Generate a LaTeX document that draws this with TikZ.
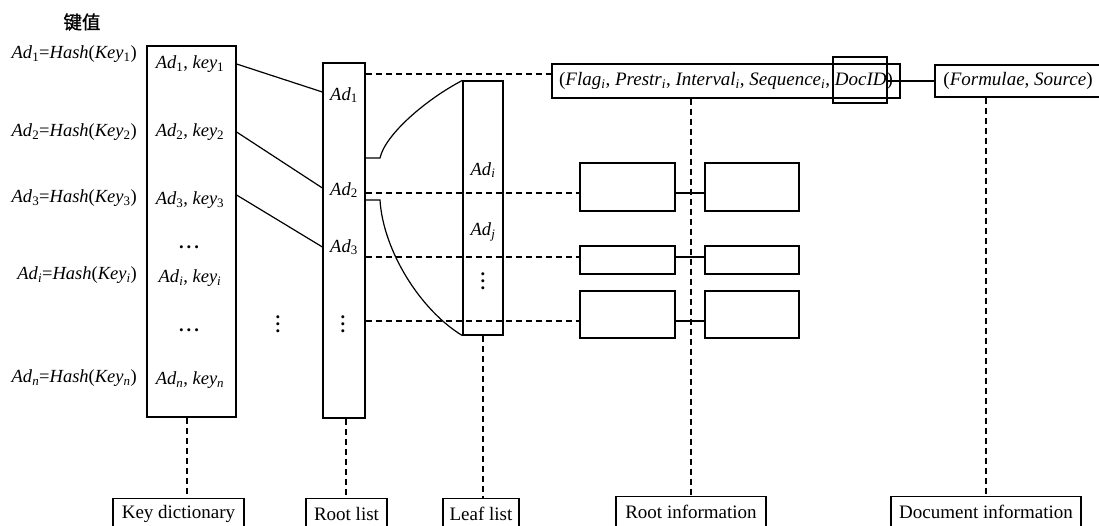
\documentclass[tikz,border=0pt]{standalone}
\usepackage{fontspec}
\setmainfont{Liberation Serif}
\newfontfamily\cjk[FakeBold=1.2]{Noto Sans CJK SC}
\newcommand{\Ad}[1]{\textit{Ad}\textsubscript{#1}}
\newcommand{\ky}[1]{\textit{key}\textsubscript{#1}}
\newcommand{\hs}[2]{\Ad{#1}=\textit{Hash}(\textit{Key}\textsubscript{#2})}
% heavy horizontal and vertical ellipses
\newcommand{\hdt}{\textbf{.\kern3pt.\kern3pt.}}
\newcommand{\vdt}{\vbox{\baselineskip=7pt\lineskiplimit=-10pt\hbox{\textbf{.}}\hbox{\textbf{.}}\hbox{\textbf{.}}}}
\tikzset{
  every node/.style={font=\fontsize{18.5}{21}\selectfont, inner sep=0pt},
  big/.style={font=\fontsize{19}{21}\selectfont},
  box/.style={draw, line width=1.2pt, rectangle},
  conn/.style={line width=1.2pt},
  dline/.style={line width=1.2pt, dash pattern=on 6pt off 4pt},
  lbl/.style={box, big, anchor=north, minimum height=30pt},
}
\begin{document}
\begin{tikzpicture}[x=1pt,y=-1pt]
\useasboundingbox (0,0) rectangle (1099,525);

% heading
\node[font=\cjk\fontsize{18.5}{20}\selectfont] (title) at (82,22) {键值};

% hash formulas
\node[anchor=east] (h1) at (137,54) {\hs{1}{1}};
\node[anchor=east] (h2) at (137,132) {\hs{2}{2}};
\node[anchor=east] (h3) at (137,198) {\hs{3}{3}};
\node[anchor=east] (hi) at (137,275) {\hs{\textit{i}}{\textit{i}}};
\node[anchor=east] (hn) at (137,378) {\hs{\textit{n}}{\textit{n}}};

% key dictionary
\node[box, minimum width=89pt, minimum height=371pt] (kd) at (191.5,231.5) {};
\node (k1) at (190,64) {\Ad{1}, \ky{1}};
\node (k2) at (190,132) {\Ad{2}, \ky{2}};
\node (k3) at (190,200) {\Ad{3}, \ky{3}};
\node (kd1) at (189,247) {\hdt};
\node (ki) at (190,278) {\Ad{\textit{i}}, \ky{\textit{i}}};
\node (kd2) at (189,330) {\hdt};
\node (kn) at (190,380) {\Ad{\textit{n}}, \ky{\textit{n}}};

\node (mdots) at (278,324) {\vdt};

% root list
\node[box, minimum width=42pt, minimum height=355pt] (rl) at (344,240.5) {};
\node (r1) at (344,95) {\Ad{1}};
\node (r2) at (344,190) {\Ad{2}};
\node (r3) at (344,247) {\Ad{3}};
\node (rd) at (343,324) {\vdt};

% leaf list
\node[box, minimum width=40pt, minimum height=254pt] (lf) at (483,208) {};
\node (l1) at (483,170) {\Ad{\textit{i}}};
\node (l2) at (483,232) {\Ad{\textit{j}}};
\node (ld) at (483,281) {\vdt};

% root information tuple and document information
\node[box, big, minimum width=348pt, minimum height=34pt] (info) at (726,81)
  {(\textit{Flag}\textsubscript{\textit{i}}, \textit{Prestr}\textsubscript{\textit{i}}, \textit{Interval}\textsubscript{\textit{i}}, \textit{Sequence}\textsubscript{\textit{i}}, \textit{DocID})};
\node[box, minimum width=54pt, minimum height=46pt] (docid) at (860,80) {};
\node[box, big, minimum width=166pt, minimum height=32pt] (doc) at (1018,81)
  {(\textit{Formulae}, \textit{Source})};

% further root information records
\node[box, minimum width=95pt, minimum height=48pt] (a1) at (627.5,187) {};
\node[box, minimum width=94pt, minimum height=48pt] (b1) at (752,187) {};
\node[box, minimum width=95pt, minimum height=28pt] (a2) at (627.5,260) {};
\node[box, minimum width=94pt, minimum height=28pt] (b2) at (752,260) {};
\node[box, minimum width=95pt, minimum height=47pt] (a3) at (627.5,314.5) {};
\node[box, minimum width=94pt, minimum height=47pt] (b3) at (752,314.5) {};

% captions
\node[lbl, minimum width=131pt] (kdl) at (178.5,498) {Key dictionary};
\node[lbl, minimum width=81pt] (rll) at (346.5,498) {Root list};
\node[lbl, minimum width=76pt] (lfl) at (481,498) {Leaf list};
\node[lbl, minimum width=150pt] (ril) at (691,496) {Root information};
\node[lbl, minimum width=190pt] (dil) at (986,496) {Document information};

% row heights and column positions
\coordinate (y0) at (0,74);
\coordinate (y1) at (0,193);
\coordinate (y2) at (0,257);
\coordinate (y3) at (0,321);
\coordinate (cu) at (0,158);
\coordinate (cl) at (0,200);
\coordinate (x1) at (187,0);
\coordinate (x2) at (346,0);
\coordinate (x3) at (483,0);
\coordinate (x4) at (691,0);
\coordinate (x5) at (986,0);

% key dictionary to root list
\draw[conn] (kd.east |- k1) -- (rl.west |- 0,92);
\draw[conn] (kd.east |- k2) -- (rl.west |- 0,188);
\draw[conn] (kd.east |- 0,195) -- (rl.west |- r3);

% root list to leaf list
\draw[conn] (rl.east |- cu) -- (380,158) .. controls (385,135) and (425,100) .. (lf.north west);
\draw[conn] (rl.east |- cl) -- (380,200) .. controls (383,250) and (420,310) .. (lf.south west);

% root list to root information
\draw[dline] (rl.east |- y0) -- (info.west |- y0);
\draw[dline] (rl.east |- y1) -- (a1.west |- y1);
\draw[dline] (rl.east |- y2) -- (a2.west |- y2);
\draw[dline] (rl.east |- y3) -- (a3.west |- y3);
\draw[conn] (a1.east |- y1) -- (b1.west |- y1);
\draw[conn] (a2.east |- y2) -- (b2.west |- y2);
\draw[conn] (a3.east |- y3) -- (b3.west |- y3);
\draw[conn] (docid.east |- doc.west) -- (doc.west);

% captions
\draw[dline] (kd.south -| x1) -- (kdl.north -| x1);
\draw[dline] (rl.south -| x2) -- (rll.north -| x2);
\draw[dline] (lf.south -| x3) -- (lfl.north -| x3);
\draw[dline] (info.south -| x4) -- (ril.north -| x4);
\draw[dline] (doc.south -| x5) -- (dil.north -| x5);
\end{tikzpicture}
\end{document}
